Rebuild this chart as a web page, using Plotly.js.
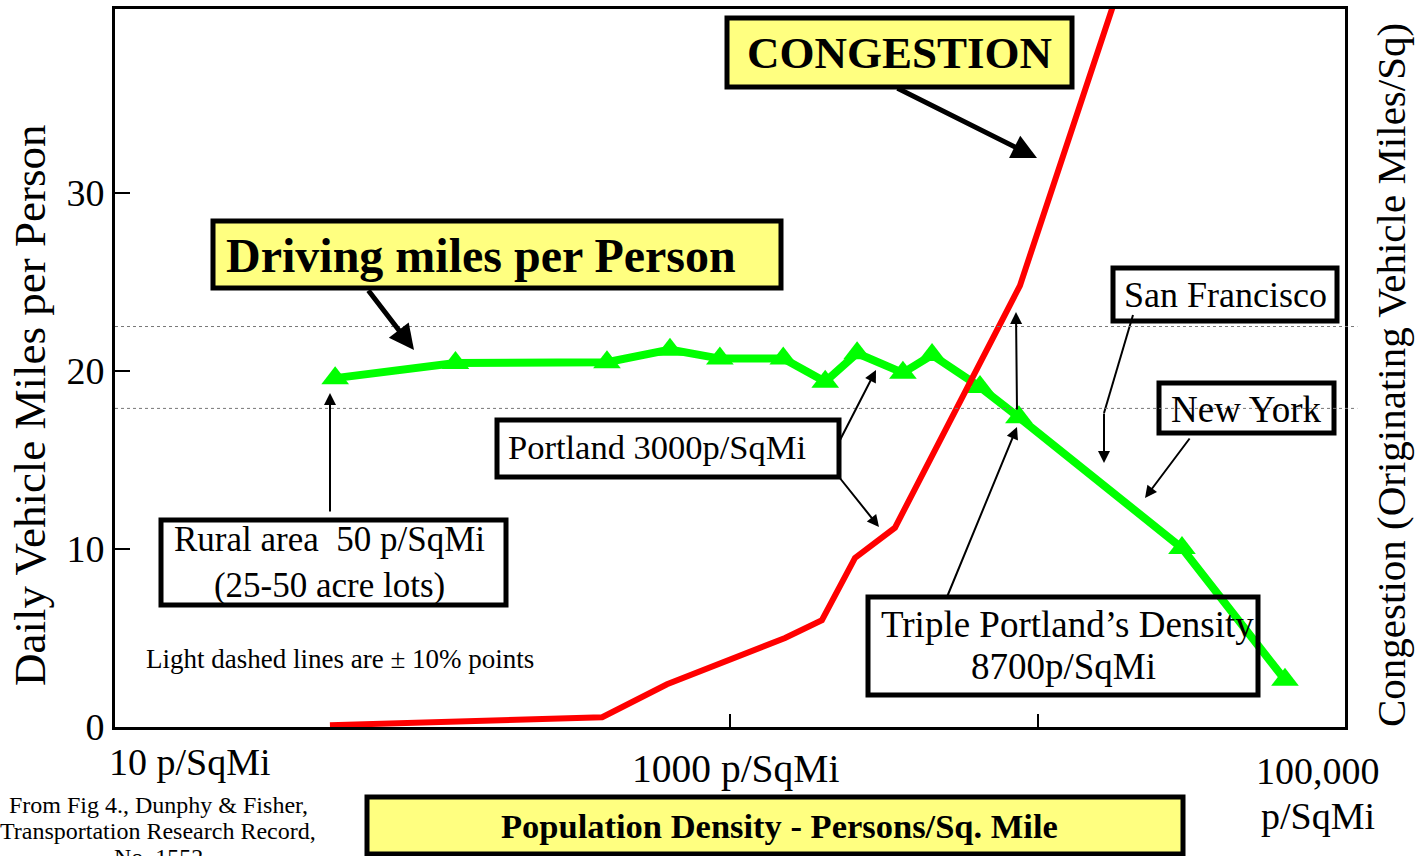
<!DOCTYPE html>
<html>
<head>
<meta charset="utf-8">
<script src="https://cdn.plot.ly/plotly-3.0.1.min.js"></script>
<style>html,body{margin:0;padding:0;background:#fff;}#chart{width:1424px;height:856px;}</style>
</head>
<body>
<div id="chart"></div>
<script>
// ---- Data ----
const densityDriving = [52, 128, 398, 638, 927, 1490, 2040, 2590, 3650, 4540, 6500, 8700, 29500, 63800];
const milesDriving   = [19.6, 20.45, 20.5, 21.2, 20.7, 20.7, 19.4, 21.0, 19.9, 20.9, 19.1, 17.4, 10.05, 2.65];
const densityCongestion = [50, 384, 624, 1510, 1990, 2550, 3440, 8770, 18800];
const congestionValues  = [0.1, 0.55, 2.4, 5.0, 6.0, 9.5, 11.2, 24.8, 42];
const tenPercentLines = [22.5, 17.9];
const yTicks = [0, 10, 20, 30];
const xTicks = [1000, 10000];
const xLabels = ["10 p/SqMi", "1000 p/SqMi", "100,000", "p/SqMi"];
const yTitle = "Daily Vehicle Miles per Person";
const y2Title = "Congestion (Originating Vehicle Miles/Sq)";
const sourceLines = ["From Fig 4., Dunphy & Fisher,", "Transportation Research Record,", "No. 1552"];

// ---- Layout helpers (pixel -> paper) ----
const W = 1424, H = 856;
const L = 115, R = 1345, T = 9, B = 727;
const px = x => (x - L) / (R - L);
const py = y => (B - y) / (B - T);
const FONT = "Liberation Serif, Times New Roman, serif";
const YEL = "#ffff80";

function box(x0, y0, x1, y1, fill) {
  return {type: 'rect', xref: 'paper', yref: 'paper', x0: px(x0), x1: px(x1), y0: py(y1), y1: py(y0),
          line: {color: '#000', width: 5}, fillcolor: fill || 'rgba(0,0,0,0)', layer: 'above'};
}
function label(text, x, y, size, bold, angle) {
  return {text: bold ? '<b>' + text + '</b>' : text, xref: 'paper', yref: 'paper', x: px(x), y: py(y),
          xanchor: 'center', yanchor: 'middle', showarrow: false, textangle: angle || 0,
          font: {family: FONT, size: size, color: '#000'}};
}
function arrow(tailX, tailY, tipX, tipY, thick) {
  return {text: '', xref: 'paper', yref: 'paper', x: px(tipX), y: py(tipY),
          axref: 'pixel', ayref: 'pixel', ax: tailX - tipX, ay: tailY - tipY,
          showarrow: true, arrowhead: 2, arrowwidth: thick ? 5 : 2, arrowsize: thick ? 1 : 1.2,
          arrowcolor: '#000', standoff: 0, startstandoff: 0, borderpad: 0};
}

const traces = [
  {x: densityDriving, y: milesDriving, type: 'scatter', mode: 'lines+markers', name: 'Driving miles per Person',
   line: {color: '#00ff00', width: 8}, marker: {symbol: 'triangle-up', size: 24, color: '#00ff00'},
   hoverinfo: 'skip'},
  {x: densityCongestion, y: congestionValues, type: 'scatter', mode: 'lines', name: 'Congestion', yaxis: 'y2',
   line: {color: '#ff0000', width: 6}, hoverinfo: 'skip'}
];

const yRange = [0, 40.34];

const shapes = [
  box(727, 18, 1072, 87, YEL),
  box(213, 221, 781, 288, YEL),
  box(497, 420, 839, 477, '#ffffff'),
  box(161, 520, 506, 605, '#ffffff'),
  box(868, 597, 1258, 695, null),
  box(1113, 268, 1337, 321, '#ffffff'),
  box(1159, 383, 1334, 433, '#ffffff'),
  box(367, 797, 1183, 854, YEL),
  {type: 'line', xref: 'paper', yref: 'paper', x0: px(1133), y0: py(315), x1: px(1104), y1: py(413),
   line: {color: '#000', width: 2}, layer: 'above'}
];
tenPercentLines.forEach(v => shapes.push({type: 'line', xref: 'paper', yref: 'y', x0: 0, x1: 1.01, y0: v, y1: v,
  line: {color: '#777', width: 1, dash: 'dot'}, layer: 'above'}));

const annotations = [
  label(yTitle, 30, 405, 45, false, -90),
  label(y2Title, 1391, 375, 41, false, -90),
  label('CONGESTION', 899, 53, 45, true),
  label('Driving miles per Person', 481, 255, 48, true),
  label('Portland 3000p/SqMi', 657, 447, 34.5),
  label('Rural area\u00a0 50 p/SqMi<br>(25-50 acre lots)', 329, 562, 35),
  label('Light dashed lines are \u00b1 10% points', 340, 659, 27),
  label('Triple Portland\u2019s Density', 1067, 624, 37),
  label('8700p/SqMi', 1063, 666, 37),
  label('San Francisco', 1225, 295, 36),
  label('New York', 1246, 409, 37),
  label('Population Density - Persons/Sq. Mile', 779, 826, 34.5, true),
  label(xLabels[0], 190, 762, 38),
  label(xLabels[1], 735, 769, 39.5),
  label(xLabels[2], 1318, 771, 38),
  label(xLabels[3], 1318, 816, 38),
  label(sourceLines[0], 158, 805, 24),
  label(sourceLines[1], 158, 831, 24),
  label(sourceLines[2], 158, 857, 24),
  arrow(897, 88, 1037, 158, true),
  arrow(368, 290, 414, 350, true),
  arrow(839, 442, 876, 370, false),
  arrow(839, 477, 879, 527, false),
  arrow(330, 512, 330, 393, false),
  arrow(947, 597, 1017, 427, false),
  arrow(1017, 410, 1016, 312, false),
  arrow(1104, 413, 1104, 463, false),
  arrow(1190, 438, 1145, 498, false)
];

const layout = {
  width: W, height: H,
  margin: {l: L, r: W - R, t: T, b: H - B, pad: 0},
  paper_bgcolor: '#fff', plot_bgcolor: '#fff',
  showlegend: false,
  font: {family: FONT, color: '#000'},
  xaxis: {type: 'log', range: [1, 5], tickvals: xTicks, ticks: 'inside', ticklen: 13, tickwidth: 2,
          tickcolor: '#000', showticklabels: false, showline: true, linecolor: '#000', linewidth: 3,
          mirror: true, showgrid: false, zeroline: false},
  yaxis: {range: yRange, tickvals: yTicks, ticks: 'inside', ticklen: 15, tickwidth: 2, tickcolor: '#000',
          tickfont: {family: FONT, size: 38, color: '#000'}, showline: true, linecolor: '#000', linewidth: 3,
          mirror: true, showgrid: false, zeroline: false},
  yaxis2: {range: yRange, overlaying: 'y', side: 'right', showticklabels: false, ticks: '', showline: false,
           showgrid: false, zeroline: false},
  shapes: shapes,
  annotations: annotations
};

Plotly.newPlot('chart', traces, layout, {displayModeBar: false, staticPlot: true});
</script>
</body>
</html>
